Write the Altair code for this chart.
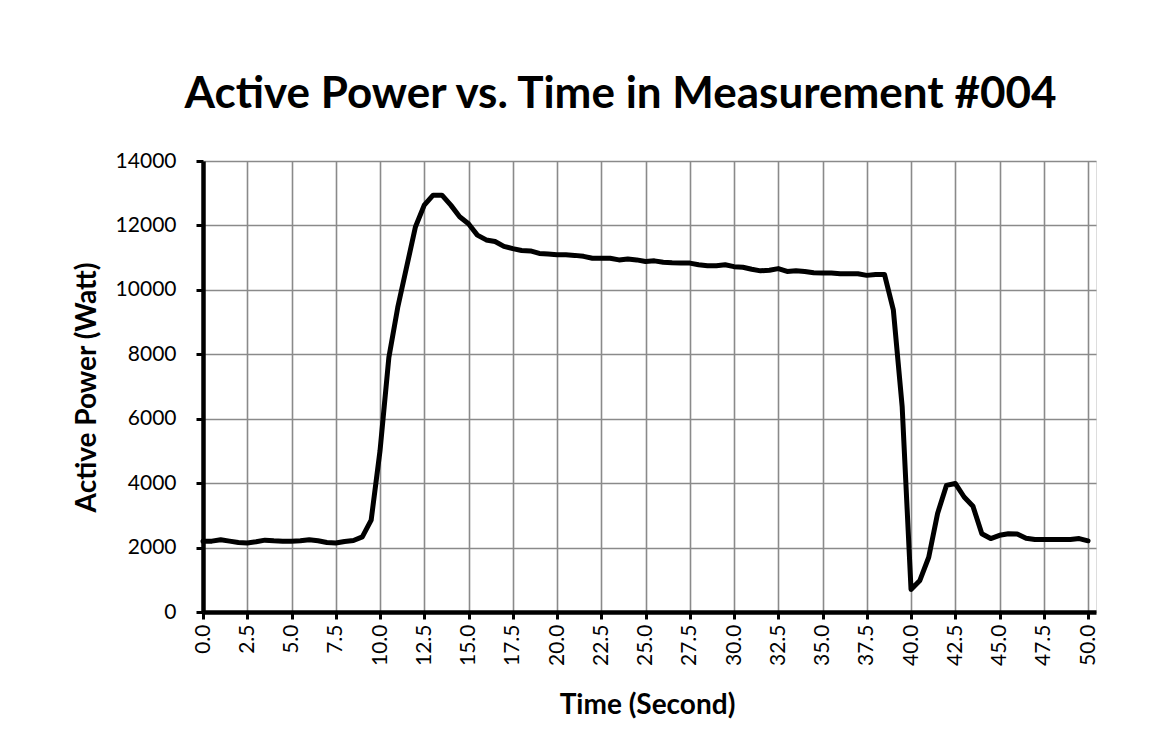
import altair as alt
import pandas as pd

# Sample times (seconds)
times = [0.0, 0.5, 1.0, 1.5, 2.0, 2.5, 3.0, 3.5, 4.0, 4.5,
         5.0, 5.5, 6.0, 6.5, 7.0, 7.5, 8.0, 8.5, 9.0, 9.5,
         10.0, 10.5, 11.0, 11.5, 12.0, 12.5, 13.0, 13.5, 14.0, 14.5,
         15.0, 15.5, 16.0, 16.5, 17.0, 17.5, 18.0, 18.5, 19.0, 19.5,
         20.0, 20.5, 21.0, 21.5, 22.0, 22.5, 23.0, 23.5, 24.0, 24.5,
         25.0, 25.5, 26.0, 26.5, 27.0, 27.5, 28.0, 28.5, 29.0, 29.5,
         30.0, 30.5, 31.0, 31.5, 32.0, 32.5, 33.0, 33.5, 34.0, 34.5,
         35.0, 35.5, 36.0, 36.5, 37.0, 37.5, 38.0, 38.5, 39.0, 39.5,
         40.0, 40.5, 41.0, 41.5, 42.0, 42.5, 43.0, 43.5, 44.0, 44.5,
         45.0, 45.5, 46.0, 46.5, 47.0, 47.5, 48.0, 48.5, 49.0, 49.5,
         50.0]

# Active power (Watt)
power = [2200, 2200, 2240, 2200, 2160, 2140, 2180, 2230, 2210, 2200,
         2200, 2210, 2240, 2210, 2160, 2140, 2190, 2220, 2330, 2850,
         5000, 7900, 9450, 10700, 11950, 12630, 12940, 12940, 12630, 12270,
         12050, 11700, 11550, 11500, 11350, 11280, 11220, 11210, 11130, 11110,
         11090, 11090, 11070, 11040, 10980, 10980, 10980, 10930, 10960, 10930,
         10880, 10900, 10860, 10840, 10830, 10830, 10780, 10750, 10750, 10780,
         10720, 10700, 10640, 10590, 10610, 10660, 10570, 10590, 10570, 10530,
         10520, 10520, 10500, 10500, 10500, 10450, 10480, 10480, 9380, 6370,
         700, 980, 1700, 3060, 3930, 3990, 3570, 3280, 2430, 2280,
         2380, 2430, 2420, 2290, 2250, 2250, 2250, 2250, 2250, 2280,
         2210]

x_ticks = [0.0, 2.5, 5.0, 7.5, 10.0, 12.5, 15.0, 17.5, 20.0, 22.5, 25.0,
           27.5, 30.0, 32.5, 35.0, 37.5, 40.0, 42.5, 45.0, 47.5, 50.0]
y_ticks = [0, 2000, 4000, 6000, 8000, 10000, 12000, 14000]

df = pd.DataFrame({"time": times, "power": power})

FONT = "Lato"
W, H = 893, 451
PAD_L, PAD_T, PAD_R, PAD_B = 195, 153, 60, 110

chart = alt.Chart(df).mark_line(
    color="black", strokeWidth=5, strokeJoin="round", strokeCap="round"
).encode(
    x=alt.X(
        "time:Q",
        scale=alt.Scale(domain=[0, 50.45], nice=False, zero=False),
        axis=alt.Axis(
            title="Time (Second)",
            values=x_ticks,
            format=".1f",
            labelAngle=-90,
            labelAlign="right",
            labelBaseline="middle",
            labelPadding=5,
            labelFontSize=21,
            labelFont=FONT,
            labelColor="black",
            labelFlush=False,
            labelOverlap=False,
            tickSize=7,
            tickWidth=3,
            tickColor="black",
            domainColor="black",
            domainWidth=4.5,
            grid=True,
            gridColor="#8a8a8a",
            gridWidth=1.6,
            titleFont=FONT,
            titleFontSize=28,
            titleFontWeight="bold",
            titleColor="black",
            titleX=444,
            titleY=93,
            titleBaseline="middle",
            titleAlign="center",
        ),
    ),
    y=alt.Y(
        "power:Q",
        scale=alt.Scale(domain=[0, 14000], nice=False),
        axis=alt.Axis(
            title="Active Power (Watt)",
            values=y_ticks,
            format="d",
            labelPadding=20,
            labelFontSize=21,
            labelFont=FONT,
            labelColor="black",
            labelFlush=False,
            tickSize=7,
            tickWidth=3,
            tickColor="black",
            domainColor="black",
            domainWidth=4.5,
            grid=True,
            gridColor="#8a8a8a",
            gridWidth=1.6,
            titleFont=FONT,
            titleFontSize=28,
            titleFontWeight="bold",
            titleColor="black",
            titleX=-116,
            titleY=226,
            titleAngle=-90,
            titleBaseline="middle",
            titleAlign="center",
        ),
    ),
).properties(
    width=W,
    height=H,
    autosize=alt.AutoSizeParams(type="none"),
    padding={"left": PAD_L, "top": PAD_T, "right": PAD_R, "bottom": PAD_B},
    title=alt.TitleParams(
        text="Active Power vs. Time in Measurement #004",
        font=FONT,
        fontSize=44,
        fontWeight="bold",
        color="black",
        anchor="middle",
        dx=-29,
        offset=33,
    ),
).configure_view(
    stroke="transparent"
).configure(
    background="white"
)

chart.save("out.html", embed_options={"renderer": "svg", "actions": False})
